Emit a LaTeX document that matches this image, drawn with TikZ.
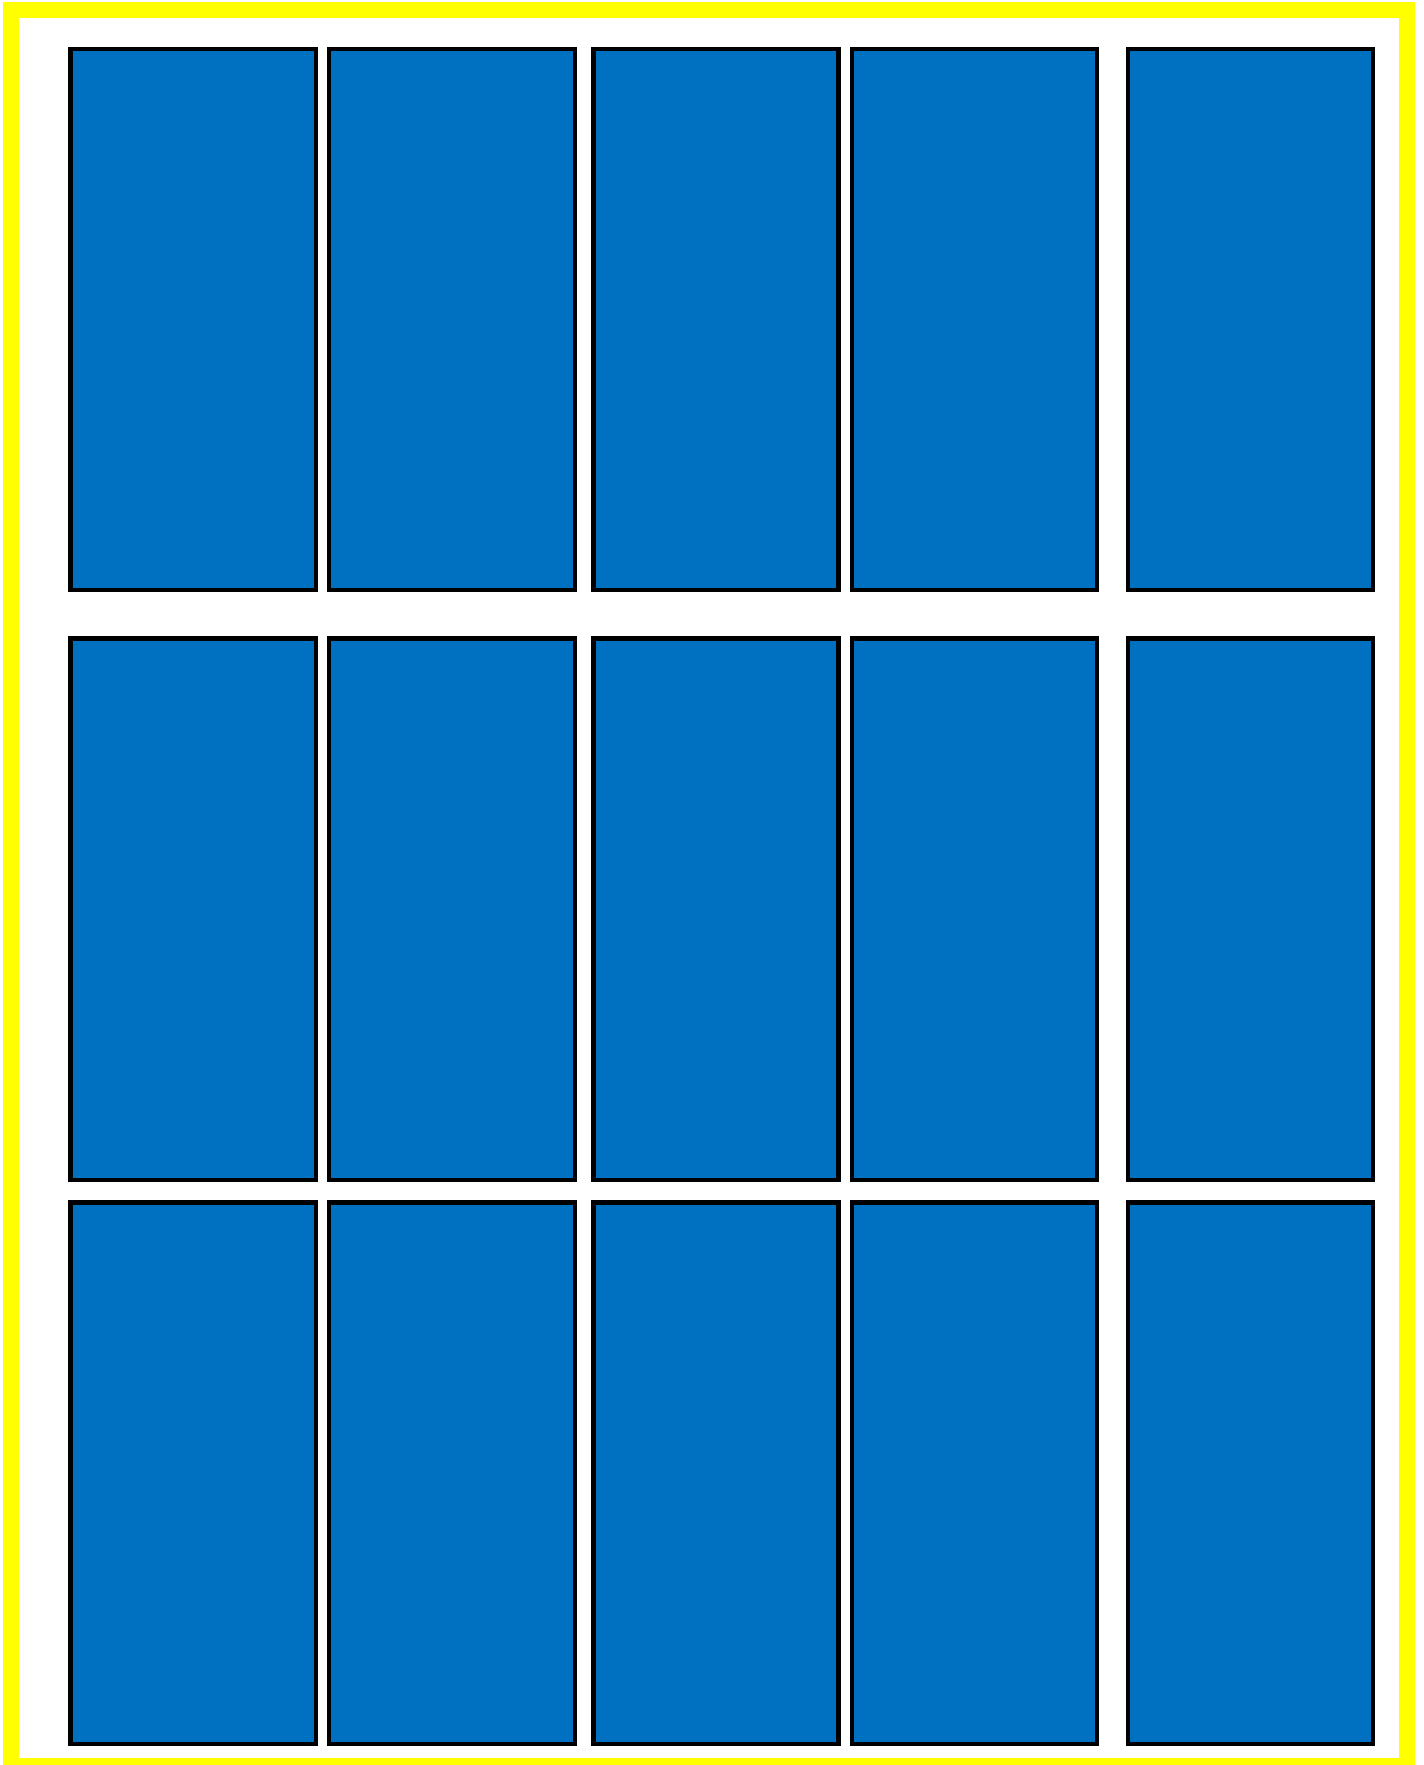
\documentclass[tikz,border=0pt]{standalone}
\definecolor{panelblue}{HTML}{0070C0}
\definecolor{frameyellow}{RGB}{255,255,0}
\begin{document}
\begin{tikzpicture}[x=1pt,y=-1pt,
  panel/.style={draw=black,line width=4.5pt,fill=panelblue}]
\useasboundingbox (0,0) rectangle (1424,1765);
\begin{scope}
\clip (0,0) rectangle (1424,1765);
\draw[frameyellow,line width=16pt] (11,10) rectangle (1407,1766);
\end{scope}
\foreach \r/\ya/\yb in {1/49/590, 2/638.5/1180, 3/1202.5/1744}{
  \foreach \c/\xa/\xb in {1/70.5/316, 2/329/575, 3/593.5/838.5, 4/852/1097, 5/1128/1373}{
    \draw[panel] (\xa,\ya) rectangle (\xb,\yb);
  }
}
\end{tikzpicture}
\end{document}
